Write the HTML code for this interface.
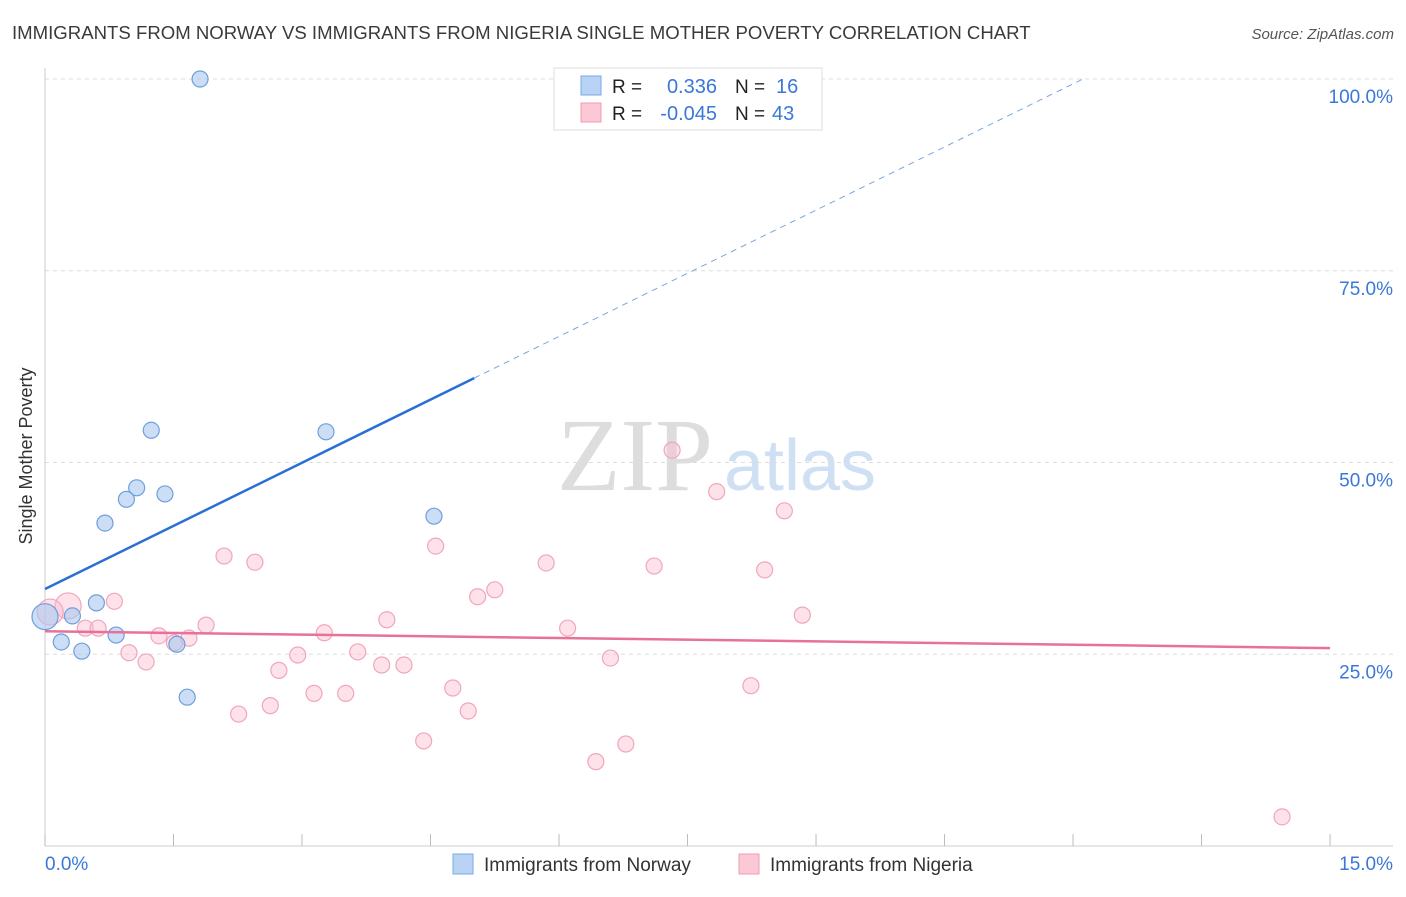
<!DOCTYPE html>
<html><head><meta charset="utf-8"><style>
body{margin:0;background:#fff;font-family:"Liberation Sans",sans-serif;}
svg text{font-family:"Liberation Sans",sans-serif;}
</style></head><body>
<svg id="c" width="1406" height="892">
<text x="12" y="39" font-size="18.6" fill="#3a3a3a">IMMIGRANTS FROM NORWAY VS IMMIGRANTS FROM NIGERIA SINGLE MOTHER POVERTY CORRELATION CHART</text>
<text x="1394" y="39" font-size="15" fill="#555" text-anchor="end" font-style="italic">Source: ZipAtlas.com</text>
<text x="32" y="456" font-size="18" fill="#333" text-anchor="middle" transform="rotate(-90 32 456)">Single Mother Poverty</text>
<g><text x="635" y="490" font-size="104" fill="#ddd" style="font-family:'Liberation Serif',serif" text-anchor="middle">ZIP</text><text x="800" y="490" font-size="72" fill="#cfe0f5" text-anchor="middle">atlas</text></g>
<g id="grid"></g><g id="axes"></g><g id="marks"></g>
<g>
<rect x="554" y="68" width="268" height="62" fill="#fff" stroke="#ddd"/>
<rect x="581" y="76" width="20" height="19" fill="#b9d3f5" stroke="#7aaae8"/>
<rect x="581" y="103" width="20" height="19" fill="#fcc8d6" stroke="#f09ab4"/>
<text x="612" y="93" font-size="19" fill="#222">R =</text><text x="717" y="93" font-size="20" fill="#3a78d8" text-anchor="end">0.336</text>
<text x="735" y="93" font-size="19" fill="#222">N =</text><text x="776" y="93" font-size="20" fill="#3a78d8">16</text>
<text x="612" y="120" font-size="19" fill="#222">R =</text><text x="717" y="120" font-size="20" fill="#3a78d8" text-anchor="end">-0.045</text>
<text x="735" y="120" font-size="19" fill="#222">N =</text><text x="772" y="120" font-size="20" fill="#3a78d8">43</text>
</g>
<g>
<rect x="453" y="854" width="20" height="20" fill="#b9d3f5" stroke="#7aaae8"/>
<text x="484" y="871" font-size="19" fill="#333">Immigrants from Norway</text>
<rect x="739" y="854" width="20" height="20" fill="#fcc8d6" stroke="#f09ab4"/>
<text x="770" y="871" font-size="19" fill="#333">Immigrants from Nigeria</text>
</g>
</svg>
<script>
const norwayX=[1.81,1.24,3.28,1.07,1.40,0.95,0.70,4.54,0.60,0.32,0.0,0.19,0.83,0.43,1.54,1.66];
const norwayY=[100,54.2,54.0,46.7,45.9,45.2,42.1,43.0,31.7,30.0,29.9,26.6,27.5,25.4,26.3,19.4];
const nigeriaX=[7.32,7.84,8.63,4.56,2.09,2.45,5.85,7.11,8.40,5.25,5.05,0.81,0.27,0.06,8.84,3.99,1.88,6.10,0.47,0.62,3.26,1.33,1.68,1.51,3.65,0.98,2.95,1.18,6.60,3.93,4.19,2.73,4.76,8.24,3.14,3.51,2.63,4.94,2.26,4.42,6.78,6.43,14.44];
const nigeriaY=[51.6,46.2,43.7,39.1,37.8,37.0,36.9,36.5,36.0,33.4,32.5,31.9,31.3,30.5,30.1,29.5,28.8,28.4,28.4,28.4,27.8,27.4,27.1,26.5,25.3,25.2,24.9,24.0,24.5,23.6,23.6,22.9,20.6,20.9,19.9,19.9,18.3,17.6,17.2,13.7,13.3,11.0,3.8];
const norwayTrend=[33.5,61.0]; // y at x=0 and x=5.01
const nigeriaTrend=[28.0,25.8]; // y at x=0 and x=15
const yTicks=[25,50,75,100];
const xTickLabels=["0.0%","15.0%"];
const sx=v=>45+v*85.67, sy=v=>846-v*7.67;
const NS="http://www.w3.org/2000/svg";
function mk(p,t,a){const e=document.createElementNS(NS,t);for(const k in a)e.setAttribute(k,a[k]);document.getElementById(p).appendChild(e);return e;}
yTicks.forEach(t=>{
 const l=mk('grid','line',{x1:45,x2:1393,y1:sy(t),y2:sy(t),stroke:'#ddd','stroke-dasharray':'4,4'});
 
 
 const tx=mk('grid','text',{x:1393,y:sy(t)+24,'font-size':19,fill:'#3a78d8','text-anchor':'end'});tx.textContent=t.toFixed(1)+'%';
 
 
});
mk('axes','line',{x1:45,x2:45,y1:68,y2:846,stroke:'#ccc'});
mk('axes','line',{x1:45,x2:1393,y1:846,y2:846,stroke:'#ccc'});
for(let i=0;i<=15;i+=1.5){const l=mk('axes','line',{x1:sx(i),x2:sx(i),y1:846,y2:834,stroke:'#bbb'});}
let t0=mk('axes','text',{x:45,y:870,'font-size':19,fill:'#3a78d8'});t0.textContent=xTickLabels[0];


let t1=mk('axes','text',{x:1393,y:870,'font-size':19,fill:'#3a78d8','text-anchor':'end'});t1.textContent=xTickLabels[1];


nigeriaX.forEach((x,i)=>{const big=x<0.3;const c=mk('marks','circle',{cx:sx(x),cy:sy(nigeriaY[i]),r:big?13:8,fill:'rgba(250,190,208,0.45)',stroke:'#f2a5bd','stroke-width':1.2});
 
 });
norwayX.forEach((x,i)=>{const big=x<0.1;const c=mk('marks','circle',{cx:sx(x),cy:sy(norwayY[i]),r:big?13:8,fill:'rgba(170,200,240,0.6)',stroke:'#6e9fdc','stroke-width':1.2});
 
 });
const slope=(norwayTrend[1]-norwayTrend[0])/5.01;
const bl=mk('marks','line',{x1:sx(0),y1:sy(norwayTrend[0]),x2:sx(5.01),y2:sy(norwayTrend[1]),stroke:'#2a6fd6','stroke-width':2.5});


const xe=(100-norwayTrend[0])/slope;
const bd=mk('marks','line',{x1:sx(5.01),y1:sy(norwayTrend[1]),x2:sx(xe),y2:sy(100),stroke:'#7aa5e0','stroke-width':1,'stroke-dasharray':'6,5'});


const pl=mk('marks','line',{x1:sx(0),y1:sy(nigeriaTrend[0]),x2:sx(15),y2:sy(nigeriaTrend[1]),stroke:'#e8719a','stroke-width':2.5});


</script>
</body></html>
